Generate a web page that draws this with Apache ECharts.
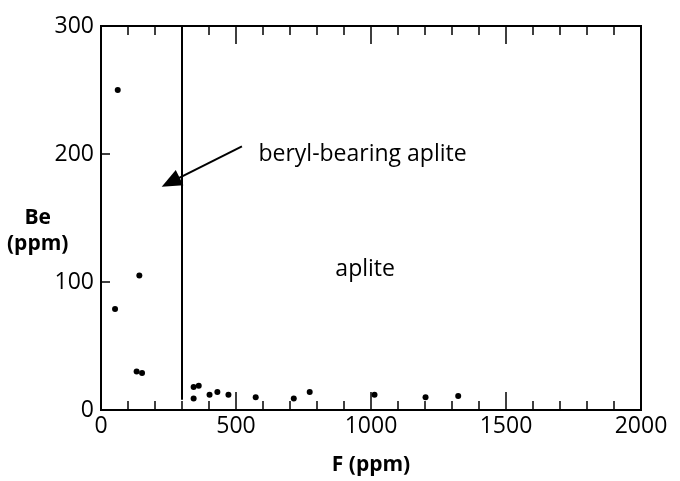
<!DOCTYPE html>
<html>
<head>
    <meta charset="utf-8">
    <title>Be vs F</title>
    <script src="https://cdn.jsdelivr.net/npm/echarts@6/dist/echarts.min.js"></script>
</head>
<body style="margin:0">
<div id="main" style="width: 680px;height:481px;"></div>
<script type="text/javascript">

    // F (ppm) and Be (ppm)
    var fPpm  = [62, 52, 142, 132, 152, 343, 362, 343, 402, 431, 472, 573, 714, 773, 1013, 1202, 1323];
    var bePpm = [250, 79, 105, 30, 29, 18, 19, 9, 12, 14, 12, 10, 9, 14, 12, 10, 11];

    var xTicks = [0, 500, 1000, 1500, 2000];
    var yTicks = [0, 100, 200, 300];

    // divider line and arrow (data coordinates)
    var dividerF = 300;
    var dividerBe = [8, 300];
    var arrowFrom = [522, 206];
    var arrowTo = [258, 178];

    var labelNames = ['beryl-bearing aplite', 'aplite'];
    var labelF = [583, 868];
    var labelBe = [200, 110];

    var font = 'Open Sans';
    var myChart = echarts.init(document.getElementById('main'));

    var points = fPpm.map(function (f, i) { return [f, bePpm[i]]; });
    var labels = labelNames.map(function (n, i) { return { value: [labelF[i], labelBe[i]], name: n }; });

    function xAxisOpt(pos, showLabel, minor) {
        return {
            type: 'value', position: pos, offset: 0,
            min: xTicks[0], max: xTicks[xTicks.length - 1], interval: minor ? 100 : 500,
            axisLine: { show: true, onZero: false, lineStyle: { color: '#000', width: 2 } },
            axisTick: { show: true, inside: true, length: minor ? 9 : 18, lineStyle: { color: '#000', width: 1.5 } },
            splitLine: { show: false },
            axisLabel: {
                show: showLabel, color: '#000', fontFamily: font, fontSize: 23, margin: 5,
                formatter: function (v) { return String(v); }
            },
            name: showLabel ? 'F (ppm)' : '',
            nameLocation: 'middle', nameGap: 45,
            nameTextStyle: { color: '#000', fontFamily: font, fontSize: 21, fontWeight: 'bold' }
        };
    }

    option = {
        animation: false,
        backgroundColor: '#fff',
        grid: { left: 101, right: 39, top: 26, bottom: 70, show: true, borderColor: '#000', borderWidth: 2 },
        xAxis: [
            xAxisOpt('bottom', true, false), xAxisOpt('top', false, false),
            xAxisOpt('bottom', false, true), xAxisOpt('top', false, true)
        ],
        yAxis: [{
            type: 'value', position: 'left',
            min: yTicks[0], max: yTicks[yTicks.length - 1], interval: 100,
            axisLine: { show: true, onZero: false, lineStyle: { color: '#000', width: 2 } },
            axisTick: { show: true, inside: true, length: 9, lineStyle: { color: '#000', width: 1.5 } },
            splitLine: { show: false },
            axisLabel: {
                color: '#000', fontFamily: font, fontSize: 23, margin: 7,
                formatter: function (v) { return String(v); }
            }
        }],
        graphic: [{
            type: 'text', left: 7, top: 205,
            style: {
                text: 'Be\n(ppm)', fill: '#000', font: 'bold 21px ' + font,
                textAlign: 'center', lineHeight: 26
            }
        }],
        series: [{
            type: 'scatter',
            data: points,
            symbolSize: 6,
            itemStyle: { color: '#000', opacity: 1 },
            markLine: {
                silent: true,
                lineStyle: { color: '#000', width: 2, type: 'solid', opacity: 1 },
                label: { show: false },
                data: [
                    [{ coord: [dividerF, dividerBe[0]], symbol: 'none' },
                     { coord: [dividerF, dividerBe[1]], symbol: 'none' }],
                    [{ coord: arrowFrom, symbol: 'none' },
                     { coord: arrowTo, symbol: 'triangle', symbolSize: [17, 20] }]
                ]
            }
        }, {
            type: 'scatter',
            data: labels,
            symbolSize: 0,
            silent: true,
            itemStyle: { opacity: 1 },
            label: {
                show: true, position: 'right', distance: 0,
                formatter: '{b}', color: '#000', fontFamily: font, fontSize: 23
            }
        }]
    };

    myChart.setOption(option);
</script>
</body>
</html>
